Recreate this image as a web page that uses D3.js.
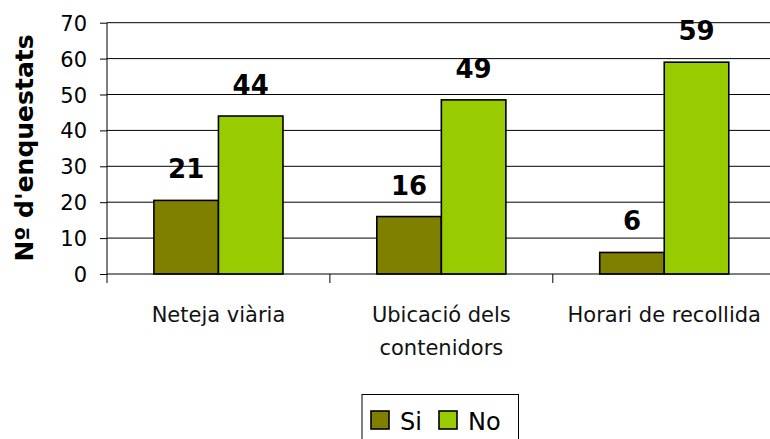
<!DOCTYPE html>
<html>
<head>
<meta charset="utf-8">
<script src="https://cdn.jsdelivr.net/npm/d3@7"></script>
<style>
  html, body { margin: 0; padding: 0; background: #fff; }
  svg { display: block; }
</style>
</head>
<body>
<svg id="chart" width="770" height="439"></svg>
<script>
const categories = [["Neteja viària"], ["Ubicació dels", "contenidors"], ["Horari de recollida"]];
const categoryKeys = ["Neteja viària", "Ubicació dels contenidors", "Horari de recollida"];
const seriesNames = ["Si", "No"];
const siValues = [20.5, 16, 6];
const noValues = [44, 48.5, 59];
const yTicks = [0, 10, 20, 30, 40, 50, 60, 70];
const colors = ["#808000", "#99CC00"];
const yTitle = "Nº d'enquestats";

(function () {
const svg = d3.select("#chart");
const left = 107, right = 775.7, plotTop = 22.7, bottom = 274;

const y = d3.scaleLinear().domain([0, 70]).range([bottom, plotTop]);
const x0 = d3.scaleBand().domain(categoryKeys).range([left, right])
  .paddingInner(0.421).paddingOuter(0.2105);
const x1 = d3.scaleBand().domain(seriesNames).range([0, x0.bandwidth()]);

const font = "'DejaVu Sans', Verdana, sans-serif";

// gridlines
svg.append("g").selectAll("line").data(yTicks.filter(d => d > 0)).join("line")
  .attr("x1", left).attr("x2", right)
  .attr("y1", d => y(d)).attr("y2", d => y(d))
  .attr("stroke", "#000").attr("stroke-width", 1);

// bars
const rows = categoryKeys.map((k, i) => ({ key: k, vals: [siValues[i], noValues[i]] }));
const g = svg.append("g").selectAll("g").data(rows).join("g")
  .attr("transform", d => `translate(${x0(d.key)},0)`);
g.selectAll("rect").data(d => d.vals.map((v, j) => ({ s: seriesNames[j], v, j }))).join("rect")
  .attr("x", d => x1(d.s)).attr("width", x1.bandwidth())
  .attr("y", d => y(d.v)).attr("height", d => y(0) - y(d.v))
  .attr("fill", d => colors[d.j]).attr("stroke", "#000").attr("stroke-width", 1.6);
g.selectAll("text").data(d => d.vals.map((v, j) => ({ s: seriesNames[j], v, j }))).join("text")
  .attr("x", d => x1(d.s) + x1.bandwidth() / 2)
  .attr("y", d => y(d.v) - 22)
  .attr("text-anchor", "middle")
  .attr("font-family", font).attr("font-weight", "bold").attr("font-size", 26)
  .attr("fill", "#000")
  .text(d => Math.round(d.v));

// y axis
const yAxis = d3.axisLeft(y).tickValues(yTicks).tickSize(7).tickPadding(13);
const ya = svg.append("g").attr("transform", `translate(${left},0)`).call(yAxis);
ya.select(".domain").remove();
ya.selectAll(".tick line").attr("stroke", "#000");
ya.selectAll(".tick text").attr("font-family", font).attr("font-size", 21).attr("fill", "#000")
  .attr("dy", "0.36em");
svg.append("line").attr("x1", left).attr("x2", left).attr("y1", plotTop).attr("y2", bottom + 9)
  .attr("stroke", "#000").attr("stroke-width", 1);

// x axis
svg.append("line").attr("x1", left).attr("x2", right).attr("y1", bottom).attr("y2", bottom)
  .attr("stroke", "#000").attr("stroke-width", 1.2);
const boundaries = categoryKeys.map(k => x0(k) - x0.step() * x0.paddingInner() / 2).concat([right]);
svg.append("g").selectAll("line").data(boundaries.slice(1)).join("line")
  .attr("x1", d => d).attr("x2", d => d).attr("y1", bottom).attr("y2", bottom + 9)
  .attr("stroke", "#000");

const cl = svg.append("g").selectAll("text").data(categories).join("text")
  .attr("text-anchor", "middle")
  .attr("font-family", font).attr("font-size", 21).attr("fill", "#111")
  .attr("transform", (d, i) => `translate(${x0(categoryKeys[i]) + x0.bandwidth() / 2},321.5)`);
cl.selectAll("tspan").data(d => d).join("tspan")
  .attr("x", 0).attr("y", (d, i) => i * 33.5).text(d => d);

// y title
svg.append("text")
  .attr("transform", `translate(33,148) rotate(-90)`)
  .attr("text-anchor", "middle")
  .attr("font-family", font).attr("font-weight", "bold").attr("font-size", 25)
  .attr("fill", "#000")
  .text(yTitle);

// legend
const lg = svg.append("g");
lg.append("rect").attr("x", 362).attr("y", 394.5).attr("width", 156.5).attr("height", 60)
  .attr("fill", "#fff").attr("stroke", "#000").attr("stroke-width", 1);
const legendX = [371, 439];
const items = lg.selectAll("g").data(seriesNames).join("g")
  .attr("transform", (d, i) => `translate(${legendX[i]},411)`);
items.append("rect").attr("width", 18).attr("height", 18)
  .attr("fill", (d, i) => colors[i]).attr("stroke", "#000").attr("stroke-width", 1.6);
items.append("text").attr("x", 29).attr("y", 19)
  .attr("font-family", font).attr("font-size", 24).attr("fill", "#000")
  .text(d => d);
})();
</script>
</body>
</html>
